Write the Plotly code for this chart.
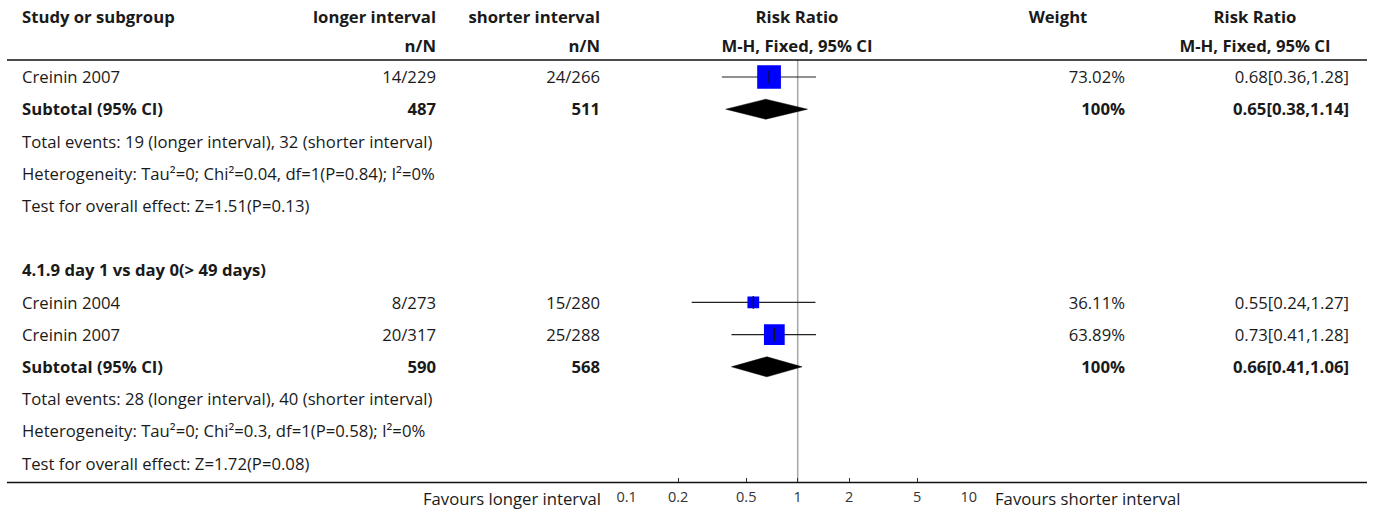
import plotly.graph_objects as go

# ---- data ----
study_labels = ["Creinin 2007", "Creinin 2004", "Creinin 2007"]
study_rows = [0, 7, 8]
longer_nN = ["14/229", "8/273", "20/317"]
shorter_nN = ["24/266", "15/280", "25/288"]
weights = [73.02, 36.11, 63.89]
rr = [0.68, 0.55, 0.73]
rr_lo = [0.36, 0.24, 0.41]
rr_hi = [1.28, 1.27, 1.28]

subtotal_rows = [1, 9]
sub_longer_N = [487, 590]
sub_shorter_N = [511, 568]
sub_weight = ["100%", "100%"]
sub_rr = [0.65, 0.66]
sub_lo = [0.38, 0.41]
sub_hi = [1.14, 1.06]

heading_rows = [6]
heading_labels = ["4.1.9 day 1 vs day 0(> 49 days)"]

info_rows = [2, 3, 4, 10, 11, 12]
info_labels = [
    "Total events: 19 (longer interval), 32 (shorter interval)",
    "Heterogeneity: Tau²=0; Chi²=0.04, df=1(P=0.84); I²=0%",
    "Test for overall effect: Z=1.51(P=0.13)",
    "Total events: 28 (longer interval), 40 (shorter interval)",
    "Heterogeneity: Tau²=0; Chi²=0.3, df=1(P=0.58); I²=0%",
    "Test for overall effect: Z=1.72(P=0.08)",
]

tick_vals = [0.1, 0.2, 0.5, 1, 2, 5, 10]
tick_text = ["0.1", "0.2", "0.5", "1", "2", "5", "10"]

# ---- layout geometry (pixels) ----
W, H = 1375, 513
FONT = "Open Sans"
FS = 16.7
TXT = "#1a1a1a"
ROW0, ROWH = 77, 32.2
HEAD1, HEAD2 = 17, 46
RULE_Y = 60
AXIS_Y = 482.5
X_STUDY, X_LONG, X_SHORT = 22, 436, 600
X_RR_MID, X_WEIGHT_H, X_WEIGHT = 797, 1058, 1125
X_RR_H, X_RR = 1255, 1349
PLOT_L, PLOT_R = 626.7, 968.7
TEXT_DY = 2


def ry(i):
    return ROW0 + i * ROWH


fig = go.Figure()

# ---- table text and rules, drawn on a full-width pixel-scaled axis (x2) ----
cells = {"middle left": [], "middle right": [], "middle center": []}


def text(x, y, s, anchor="left", bold=False):
    key = {"left": "middle right", "right": "middle left", "center": "middle center"}[anchor]
    cells[key].append((x, y + TEXT_DY, f"<b>{s}</b>" if bold else s))


# column headers
text(X_STUDY, HEAD1, "Study or subgroup", bold=True)
text(X_LONG, HEAD1, "longer interval", "right", bold=True)
text(X_LONG, HEAD2, "n/N", "right", bold=True)
text(X_SHORT, HEAD1, "shorter interval", "right", bold=True)
text(X_SHORT, HEAD2, "n/N", "right", bold=True)
text(X_RR_MID, HEAD1, "Risk Ratio", "center", bold=True)
text(X_RR_MID, HEAD2, "M-H, Fixed, 95% CI", "center", bold=True)
text(X_WEIGHT_H, HEAD1, "Weight", "center", bold=True)
text(X_RR_H, HEAD1, "Risk Ratio", "center", bold=True)
text(X_RR_H, HEAD2, "M-H, Fixed, 95% CI", "center", bold=True)

# study rows
for i, r in enumerate(study_rows):
    y = ry(r)
    text(X_STUDY, y, study_labels[i])
    text(X_LONG, y, longer_nN[i], "right")
    text(X_SHORT, y, shorter_nN[i], "right")
    text(X_WEIGHT, y, f"{weights[i]:.2f}%", "right")
    text(X_RR, y, f"{rr[i]:.2f}[{rr_lo[i]:.2f},{rr_hi[i]:.2f}]", "right")

# subtotal rows
for i, r in enumerate(subtotal_rows):
    y = ry(r)
    text(X_STUDY, y, "Subtotal (95% CI)", bold=True)
    text(X_LONG, y, str(sub_longer_N[i]), "right", bold=True)
    text(X_SHORT, y, str(sub_shorter_N[i]), "right", bold=True)
    text(X_WEIGHT, y, sub_weight[i], "right", bold=True)
    text(X_RR, y, f"{sub_rr[i]:.2f}[{sub_lo[i]:.2f},{sub_hi[i]:.2f}]", "right", bold=True)

for r, s in zip(heading_rows, heading_labels):
    text(X_STUDY, ry(r), s, bold=True)

for r, s in zip(info_rows, info_labels):
    text(X_STUDY, ry(r), s)

# favours labels
text(601, 499, "Favours longer interval", "right")
text(995, 499, "Favours shorter interval", "left")

for pos, items in cells.items():
    if not items:
        continue
    xs, ys, ts = zip(*items)
    fig.add_trace(go.Scatter(
        x=list(xs), y=list(ys), text=list(ts), mode="text", textposition=pos,
        textfont=dict(family=FONT, size=FS, color=TXT),
        xaxis="x2", yaxis="y", hoverinfo="skip", showlegend=False, cliponaxis=False))

# horizontal rules under the header and along the axis
for yy in (RULE_Y, AXIS_Y):
    fig.add_trace(go.Scatter(x=[7, 1367], y=[yy, yy], mode="lines",
                             line=dict(color="#111111", width=1.5),
                             xaxis="x2", yaxis="y", hoverinfo="skip", showlegend=False))

# ---- forest plot on the log axis (x) ----
# reference line at RR = 1
fig.add_trace(go.Scatter(x=[1, 1], y=[RULE_Y, AXIS_Y], mode="lines",
                         line=dict(color="#a6a6a6", width=1.5),
                         hoverinfo="skip", showlegend=False))

# study confidence intervals
for i, r in enumerate(study_rows):
    fig.add_trace(go.Scatter(x=[rr_lo[i], rr_hi[i]], y=[ry(r), ry(r)], mode="lines",
                             line=dict(color="#222222", width=1.2),
                             hoverinfo="skip", showlegend=False))

# weighted squares
fig.add_trace(go.Scatter(
    x=rr, y=[ry(r) for r in study_rows], mode="markers",
    marker=dict(symbol="square", color="#0000ff", opacity=1,
                size=[w * 0.325 for w in weights], line=dict(width=0)),
    hoverinfo="skip", showlegend=False))

# point-estimate ticks
fig.add_trace(go.Scatter(
    x=rr, y=[ry(r) for r in study_rows], mode="markers",
    marker=dict(symbol="line-ns", size=9, opacity=1,
                line=dict(color="#111111", width=1.3)),
    hoverinfo="skip", showlegend=False))

# pooled diamonds
for i, r in enumerate(subtotal_rows):
    y0 = ry(r)
    fig.add_trace(go.Scatter(
        x=[sub_lo[i], sub_rr[i], sub_hi[i], sub_rr[i], sub_lo[i]],
        y=[y0, y0 - 10, y0, y0 + 10, y0],
        mode="lines", fill="toself", fillcolor="#000000",
        line=dict(color="#000000", width=0.5),
        hoverinfo="skip", showlegend=False))

fig.update_layout(
    width=W, height=H,
    margin=dict(l=0, r=0, t=0, b=0, pad=0, autoexpand=False),
    paper_bgcolor="white", plot_bgcolor="rgba(0,0,0,0)",
    xaxis=dict(type="log", range=[-1, 1], domain=[PLOT_L / W, PLOT_R / W],
               anchor="free", position=(H - AXIS_Y) / H,
               tickvals=tick_vals, ticktext=tick_text,
               ticks="inside", ticklen=5, tickwidth=1, tickcolor="#333333",
               showline=False, showgrid=False, zeroline=False,
               tickfont=dict(family=FONT, size=14.5, color="#333333"),
               ticklabelstandoff=4, automargin=False, fixedrange=True),
    xaxis2=dict(range=[0, W], domain=[0, 1], anchor="y", automargin=False,
                visible=False, fixedrange=True),
    yaxis=dict(range=[H, 0], domain=[0, 1], visible=False, automargin=False,
               fixedrange=True),
)

fig.write_html("out.html")
